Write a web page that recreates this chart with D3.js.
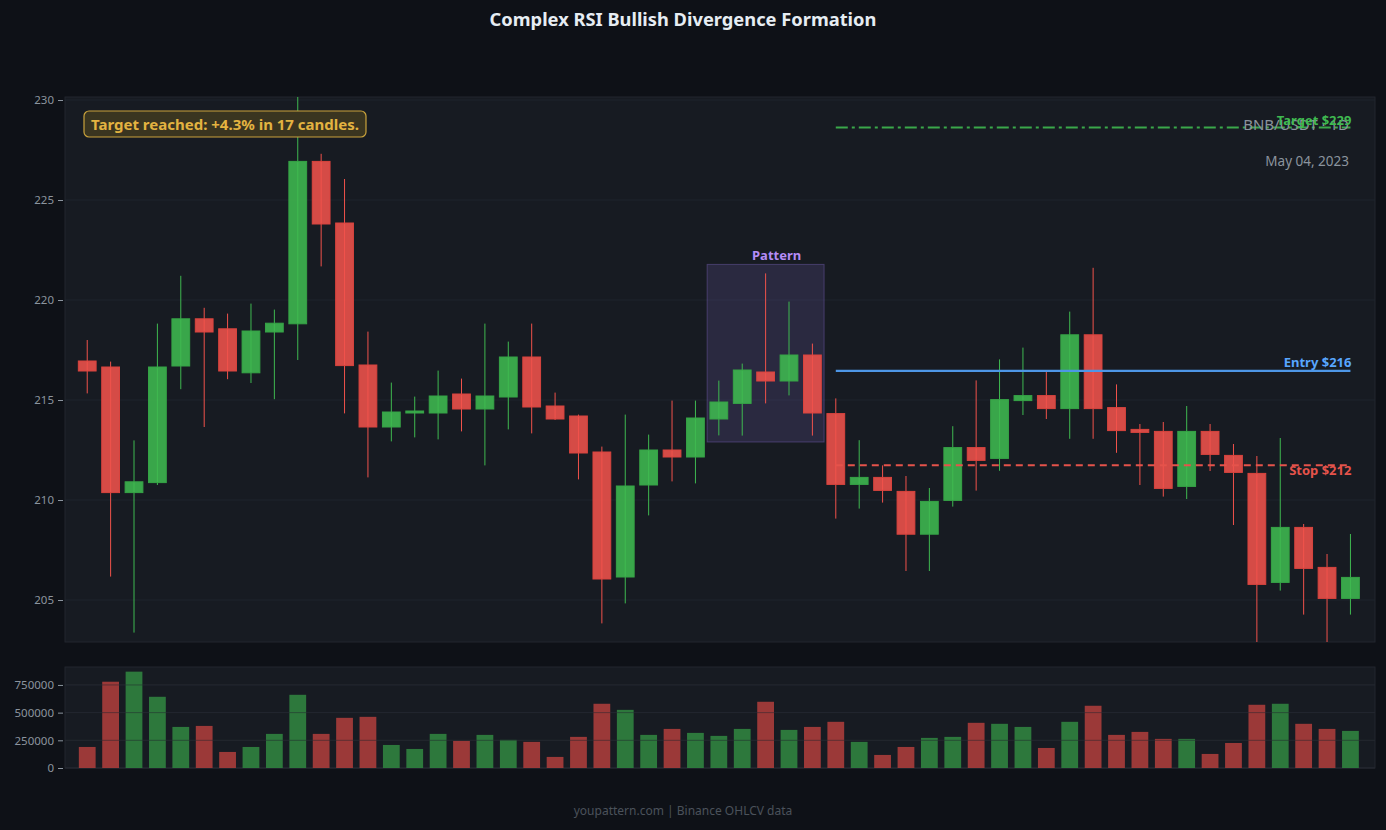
<!DOCTYPE html>
<html>
<head>
<meta charset="utf-8">
<script src="https://cdn.jsdelivr.net/npm/d3@7"></script>
<style>
  body { margin: 0; background: #0e1117; }
  svg { display: block; font-family: "Noto Sans", sans-serif; }
</style>
</head>
<body>
<svg id="chart"></svg>
<script>
// OHLCV data
var opens  = [216.95, 216.65, 210.37, 210.87, 216.70, 219.06, 218.56, 216.36, 218.40, 218.81,
              226.93, 223.85, 216.75, 213.65, 214.35, 214.35, 215.30, 214.55, 215.15, 217.15,
              214.70, 214.20, 212.40, 206.15, 210.75, 212.50, 212.15, 214.05, 214.83, 216.40,
              215.95, 217.25, 214.32, 210.78, 211.13, 210.43, 208.29, 209.98, 212.62, 212.08,
              214.97, 215.22, 214.57, 218.26, 214.62, 213.53, 213.43, 210.68, 213.43, 212.23,
              211.33, 205.88, 208.63, 206.63, 205.08];
var closes = [216.45, 210.37, 210.91, 216.65, 219.06, 218.40, 216.45, 218.45, 218.84, 226.93,
              223.80, 216.72, 213.65, 214.40, 214.45, 215.20, 214.55, 215.20, 217.15, 214.65,
              214.05, 212.35, 206.05, 210.70, 212.50, 212.15, 214.10, 214.90, 216.50, 215.95,
              217.25, 214.35, 210.78, 211.13, 210.48, 208.29, 209.93, 212.62, 211.98, 215.02,
              215.22, 214.57, 218.26, 214.57, 213.47, 213.38, 210.58, 213.43, 212.28, 211.38,
              205.78, 208.63, 206.58, 205.08, 206.13];
var highs  = [218.00, 216.92, 212.98, 218.82, 221.21, 219.61, 219.32, 219.82, 219.52, 230.40,
              227.31, 226.05, 218.42, 215.87, 215.17, 216.47, 216.07, 218.82, 217.92, 218.82,
              215.37, 214.27, 212.67, 214.27, 213.27, 214.97, 214.97, 215.97, 216.82, 221.33,
              219.92, 217.82, 215.08, 212.99, 211.73, 211.20, 210.60, 213.69, 215.98, 217.03,
              217.62, 216.43, 219.42, 221.61, 215.78, 213.80, 213.90, 214.70, 213.80, 212.80,
              212.20, 213.10, 208.80, 207.30, 208.30];
var lows   = [215.33, 206.17, 203.37, 210.75, 215.54, 213.65, 216.04, 215.85, 215.04, 217.00,
              221.68, 214.33, 211.13, 212.93, 213.13, 213.03, 213.43, 211.73, 213.53, 213.33,
              214.00, 211.03, 203.83, 204.83, 209.23, 210.93, 210.83, 213.23, 213.22, 214.83,
              215.23, 213.22, 209.07, 209.57, 209.87, 206.45, 206.45, 209.67, 210.47, 211.46,
              214.25, 214.05, 213.06, 213.06, 212.36, 210.75, 210.17, 210.05, 211.45, 208.75,
              202.50, 205.47, 204.27, 202.80, 204.27];
var volumes = [190000, 779000, 870000, 643000, 371000, 380000, 145000, 190000, 308000, 661000,
               308000, 453000, 462000, 208000, 172000, 308000, 245000, 299000, 254000, 236000,
               100000, 281000, 580000, 525000, 299000, 353000, 317000, 290000, 353000, 598000,
               344000, 371000, 417000, 236000, 118000, 190000, 272000, 281000, 408000, 399000,
               371000, 181000, 417000, 562000, 299000, 326000, 263000, 263000, 127000, 226000,
               571000, 580000, 399000, 353000, 335000];

var priceTicks = [205, 210, 215, 220, 225, 230];
var volumeTicks = [0, 250000, 500000, 750000];

var entryPrice = 216.46, stopPrice = 211.74, targetPrice = 228.62;
var levelStart = 32, levelEnd = 54;
var patternStart = 27, patternEnd = 31, patternTop = 221.78, patternBottom = 212.9;

var data = opens.map(function(o, i) {
  return {i: i, open: o, close: closes[i], high: highs[i], low: lows[i], volume: volumes[i]};
});

var width = 1386, height = 830, centerX = 683;
var plot = {left: 65, right: 1375, top: 97, bottom: 642};
var vol = {top: 667, bottom: 768};

var green = "#3fb950", red = "#f0524b";

var svg = d3.select("#chart").attr("width", width).attr("height", height);
svg.append("rect").attr("width", width).attr("height", height).attr("fill", "#0e1117");

// scales
var x = d3.scaleLinear().domain([-0.95, data.length + 0.05]).range([plot.left, plot.right]);
var y = d3.scaleLinear().domain([202.9, 230.15]).range([plot.bottom, plot.top]);
var yv = d3.scaleLinear().domain([0, 912000]).range([vol.bottom, vol.top]);
var step = x(1) - x(0);
var bodyW = step * 0.76;

// title
svg.append("text")
    .attr("x", centerX).attr("y", 26)
    .attr("text-anchor", "middle")
    .attr("fill", "#e6edf3")
    .attr("font-size", 18.3).attr("font-weight", "bold")
    .text("Complex RSI Bullish Divergence Formation");

// main panel background
svg.append("rect")
    .attr("x", plot.left).attr("y", plot.top)
    .attr("width", plot.right - plot.left).attr("height", plot.bottom - plot.top)
    .attr("fill", "#171b22").attr("stroke", "#22272f");

svg.append("clipPath").attr("id", "clip")
  .append("rect")
    .attr("x", plot.left).attr("y", plot.top)
    .attr("width", plot.right - plot.left).attr("height", plot.bottom - plot.top);

// price grid
svg.append("g").selectAll("line")
    .data(priceTicks)
  .enter().append("line")
    .attr("x1", plot.left).attr("x2", plot.right)
    .attr("y1", function(d) { return y(d); }).attr("y2", function(d) { return y(d); })
    .attr("stroke", "#1f242c");

// price axis
var yAxis = svg.append("g")
    .attr("transform", "translate(" + (plot.left - 2) + ",0)")
    .call(d3.axisLeft(y).tickValues(priceTicks).tickSize(5).tickPadding(4));
yAxis.select(".domain").remove();
yAxis.selectAll(".tick line").attr("stroke", "#8b949e");
yAxis.selectAll("text").attr("fill", "#8b949e").attr("font-size", 11.5).attr("font-family", "Noto Sans");

var g = svg.append("g").attr("clip-path", "url(#clip)");

// pattern box
g.append("rect")
    .attr("x", x(patternStart - 0.5)).attr("y", y(patternTop))
    .attr("width", x(patternEnd + 0.5) - x(patternStart - 0.5))
    .attr("height", y(patternBottom) - y(patternTop))
    .attr("fill", "#8b6fd6").attr("fill-opacity", 0.17)
    .attr("stroke", "#8b6fd6").attr("stroke-opacity", 0.35);

svg.append("text")
    .attr("x", (x(patternStart - 0.5) + x(patternEnd + 0.5)) / 2 + 11).attr("y", y(patternTop) - 4)
    .attr("text-anchor", "middle")
    .attr("fill", "#b48cf6").attr("font-size", 13).attr("font-weight", "bold")
    .text("Pattern");

// candles
var candles = g.selectAll(".candle")
    .data(data)
  .enter().append("g")
    .attr("class", "candle");

candles.append("line")
    .attr("x1", function(d) { return x(d.i); }).attr("x2", function(d) { return x(d.i); })
    .attr("y1", function(d) { return y(d.high); }).attr("y2", function(d) { return y(d.low); })
    .attr("stroke", function(d) { return d.close >= d.open ? green : red; })
    .attr("stroke-width", 1);

candles.append("rect")
    .attr("x", function(d) { return x(d.i) - bodyW / 2; })
    .attr("y", function(d) { return y(Math.max(d.open, d.close)); })
    .attr("width", bodyW)
    .attr("height", function(d) { return Math.max(1, Math.abs(y(d.open) - y(d.close))); })
    .attr("fill", function(d) { return d.close >= d.open ? green : red; })
    .attr("fill-opacity", 0.88)
    .attr("stroke", function(d) { return d.close >= d.open ? "#36a346" : "#d9443e"; })
    .attr("stroke-width", 1);

// trade levels
g.append("line")
    .attr("x1", x(levelStart)).attr("x2", x(levelEnd))
    .attr("y1", y(targetPrice)).attr("y2", y(targetPrice))
    .attr("stroke", "#3aa84a").attr("stroke-width", 2)
    .attr("stroke-dasharray", "12,4,3,4");
g.append("line")
    .attr("x1", x(levelStart)).attr("x2", x(levelEnd))
    .attr("y1", y(entryPrice)).attr("y2", y(entryPrice))
    .attr("stroke", "#4d96e6").attr("stroke-width", 2.2);
g.append("line")
    .attr("x1", x(levelStart)).attr("x2", x(levelEnd))
    .attr("y1", y(stopPrice)).attr("y2", y(stopPrice))
    .attr("stroke", "#e5534b").attr("stroke-width", 2)
    .attr("stroke-dasharray", "7,5");

// symbol and date
svg.append("text")
    .attr("x", 1349).attr("y", 130)
    .attr("text-anchor", "end")
    .attr("fill", "#8b949e").attr("font-size", 15)
    .text("BNB/USDT · 1D");
svg.append("text")
    .attr("x", 1349).attr("y", 166)
    .attr("text-anchor", "end")
    .attr("fill", "#8b949e").attr("font-size", 13.5)
    .text("May 04, 2023");

var labels = [
  {text: "Target $229", price: targetPrice, dy: -3, color: green},
  {text: "Entry $216", price: entryPrice, dy: -4, color: "#58a6ff"},
  {text: "Stop $212", price: stopPrice, dy: 10, color: "#e5534b"}
];
svg.append("g").selectAll("text")
    .data(labels)
  .enter().append("text")
    .attr("x", x(levelEnd) + 1)
    .attr("y", function(d) { return y(d.price) + d.dy; })
    .attr("text-anchor", "end")
    .attr("fill", function(d) { return d.color; })
    .attr("font-size", 13).attr("font-weight", "bold")
    .text(function(d) { return d.text; });

// target reached note
var note = svg.append("g").attr("transform", "translate(84,111)");
note.append("rect")
    .attr("width", 282).attr("height", 26).attr("rx", 5)
    .attr("fill", "#3a3520").attr("stroke", "#c9a23c").attr("stroke-width", 1.2);
note.append("text")
    .attr("x", 141).attr("y", 18.5)
    .attr("text-anchor", "middle")
    .attr("fill", "#e3b341").attr("font-size", 15).attr("font-weight", "bold")
    .text("Target reached: +4.3% in 17 candles.");

// volume panel
svg.append("rect")
    .attr("x", plot.left).attr("y", vol.top)
    .attr("width", plot.right - plot.left).attr("height", vol.bottom - vol.top)
    .attr("fill", "#171b22").attr("stroke", "#22272f");

svg.append("g").selectAll("line")
    .data(volumeTicks)
  .enter().append("line")
    .attr("x1", plot.left).attr("x2", plot.right)
    .attr("y1", function(d) { return yv(d); }).attr("y2", function(d) { return yv(d); })
    .attr("stroke", "#262b33");

svg.append("g").selectAll("rect")
    .data(data)
  .enter().append("rect")
    .attr("x", function(d) { return x(d.i) - bodyW / 2 + 0.5; })
    .attr("y", function(d) { return yv(d.volume); })
    .attr("width", bodyW - 1)
    .attr("height", function(d) { return yv(0) - yv(d.volume); })
    .attr("fill", function(d) { return d.close >= d.open ? "#2e7d3e" : "#a23b3a"; })
    .attr("fill-opacity", 0.95);

// faint grid lines showing through the bars
svg.append("g").selectAll("line")
    .data(volumeTicks.slice(1))
  .enter().append("line")
    .attr("x1", plot.left).attr("x2", plot.right)
    .attr("y1", function(d) { return yv(d); }).attr("y2", function(d) { return yv(d); })
    .attr("stroke", "#1f242c").attr("stroke-opacity", 0.5);

var vAxis = svg.append("g")
    .attr("transform", "translate(" + (plot.left - 2) + ",0)")
    .call(d3.axisLeft(yv).tickValues(volumeTicks).tickSize(5).tickPadding(4).tickFormat(d3.format("d")));
vAxis.select(".domain").remove();
vAxis.selectAll(".tick line").attr("stroke", "#8b949e");
vAxis.selectAll("text").attr("fill", "#8b949e").attr("font-size", 11.5).attr("font-family", "Noto Sans");

// footer
svg.append("text")
    .attr("x", centerX).attr("y", 815)
    .attr("text-anchor", "middle")
    .attr("fill", "#4b525b").attr("font-size", 12)
    .text("youpattern.com | Binance OHLCV data");
</script>
</body>
</html>
